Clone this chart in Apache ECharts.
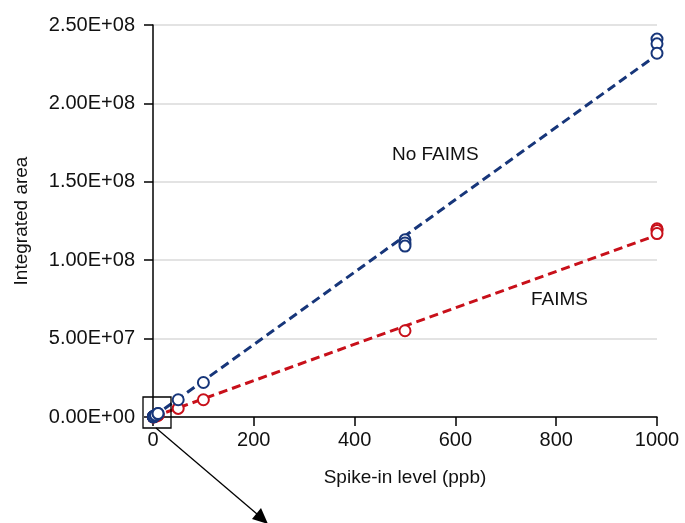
<!DOCTYPE html>
<html>
<head>
<meta charset="utf-8">
<script src="https://cdn.jsdelivr.net/npm/echarts@6/dist/echarts.min.js"></script>
<style>
  html, body { margin: 0; padding: 0; background: #fff; }
  #chart { width: 685px; height: 523px; }
</style>
</head>
<body>
<div id="chart"></div>
<script>
// spike-in levels (ppb) and integrated areas
var noFaimsX = [0.5, 0.5, 1, 1, 1, 2, 5, 5, 10, 10, 50, 100, 500, 500, 500, 1000, 1000, 1000];
var noFaimsY = [1.2e5, 1.1e5, 2.3e5, 2.5e5, 2.2e5, 4.6e5, 1.1e6, 1.2e6, 2.3e6, 2.2e6, 1.1e7, 2.2e7, 1.13e8, 1.11e8, 1.09e8, 2.41e8, 2.38e8, 2.32e8];
var faimsX = [0.5, 1, 1, 5, 5, 10, 10, 50, 100, 500, 1000, 1000, 1000];
var faimsY = [6e4, 1.2e5, 1.1e5, 5.8e5, 6.0e5, 1.2e6, 1.1e6, 5.5e6, 1.1e7, 5.5e7, 1.20e8, 1.19e8, 1.17e8];
var fitX = [0, 1000];
var noFaimsFit = [0, 2.31e8];
var faimsFit = [0, 1.16e8];

var navy = '#17367a';
var red = '#c8101a';

function pairs(xs, ys) {
    var out = [];
    for (var i = 0; i < xs.length; i++) out.push([xs[i], ys[i]]);
    return out;
}

function sci(v) {
    if (v === 0) return '0.00E+00';
    var e = Math.floor(Math.log10(v));
    var m = v / Math.pow(10, e);
    return m.toFixed(2) + 'E+' + (e < 10 ? '0' + e : e);
}

var font = 'Liberation Sans, Arial, sans-serif';
var fs = 20;
var myChart = echarts.init(document.getElementById('chart'));
myChart.setOption({
    animation: false,
    grid: { left: 153, right: 28, top: 25, bottom: 106 },
    xAxis: {
        type: 'value',
        min: 0, max: 1000, interval: 200,
        name: 'Spike-in level (ppb)',
        nameLocation: 'middle',
        nameGap: 51,
        nameTextStyle: { fontSize: 19, color: '#111', fontFamily: font },
        axisLine: { lineStyle: { color: '#000', width: 1.5 } },
        axisTick: { show: true, length: 9, lineStyle: { color: '#000', width: 1.5 } },
        axisLabel: { fontSize: fs, color: '#111', fontFamily: font, margin: 13, formatter: function (v) { return String(v); } },
        splitLine: { show: false }
    },
    yAxis: {
        type: 'value',
        min: 0, max: 2.5e8, interval: 5e7,
        name: 'Integrated area',
        nameLocation: 'middle',
        nameGap: 122,
        nameTextStyle: { fontSize: 19, color: '#111', fontFamily: font },
        axisLine: { show: true, lineStyle: { color: '#000', width: 1.5 } },
        axisTick: { show: true, length: 9, lineStyle: { color: '#000', width: 1.5 } },
        axisLabel: { fontSize: fs, color: '#111', fontFamily: font, margin: 18, formatter: sci },
        splitLine: { show: true, lineStyle: { color: '#e3e3e3', width: 2 } }
    },
    series: [
        {
            type: 'line', data: pairs(fitX, noFaimsFit), showSymbol: false, symbol: 'none',
            lineStyle: { color: navy, width: 3, type: [9, 5] }, z: 2
        },
        {
            type: 'line', data: pairs(fitX, faimsFit), showSymbol: false, symbol: 'none',
            lineStyle: { color: red, width: 3, type: [9, 5] }, z: 2
        },
        {
            type: 'scatter', data: pairs(faimsX, faimsY), symbol: 'emptyCircle', symbolSize: 11,
            clip: false, itemStyle: { color: red, borderColor: red, borderWidth: 3.2, opacity: 1 }, z: 3
        },
        {
            type: 'scatter', data: pairs(noFaimsX, noFaimsY), symbol: 'emptyCircle', symbolSize: 11,
            clip: false, itemStyle: { color: navy, borderColor: navy, borderWidth: 3.2, opacity: 1 }, z: 4
        }
    ],
    graphic: [
        { type: 'text', left: 392, top: 145, style: { text: 'No FAIMS', fill: '#111', font: '19px ' + font } },
        { type: 'text', left: 531, top: 290, style: { text: 'FAIMS', fill: '#111', font: '19px ' + font } },
        { type: 'rect', shape: { x: 143, y: 397, width: 28, height: 31 }, style: { fill: 'none', stroke: '#000', lineWidth: 1.3 }, z: 10 },
        { type: 'line', shape: { x1: 156, y1: 428, x2: 257, y2: 514 }, style: { stroke: '#000', lineWidth: 1.3 }, z: 10 },
        { type: 'polygon', shape: { points: [[268, 524], [252, 519], [261, 508]] }, style: { fill: '#000' }, z: 10 }
    ]
});
</script>
</body>
</html>
